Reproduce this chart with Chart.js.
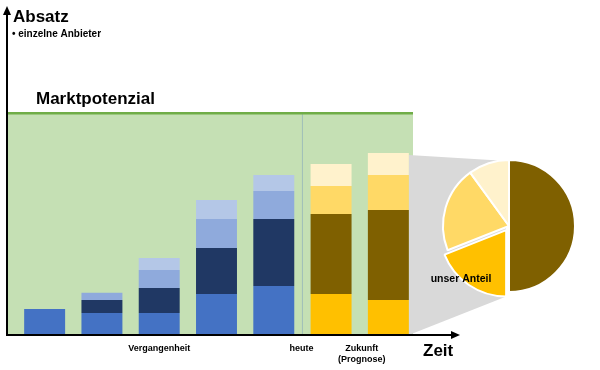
<!DOCTYPE html>
<html>
<head>
<meta charset="utf-8">
<script src="https://cdn.jsdelivr.net/npm/chart.js@4.4.0/dist/chart.umd.min.js"></script>
<style>
  body { margin: 0; background: #fff; }
  #wrap { position: relative; width: 600px; height: 370px; }
  #barChart { position: absolute; left: 0; top: 0; }
  #pieChart { position: absolute; }
</style>
</head>
<body>
<div id="wrap">
  <canvas id="barChart" width="600" height="370"></canvas>
  <canvas id="pieChart" width="200" height="200"></canvas>
</div>
<script>
// --- data ---
var zeitpunkte = ['t1', 't2', 't3', 't4', 't5', 't6', 't7'];
var istPrognose = [false, false, false, false, false, true, true];
var marktpotenzial = 100;
// stack layers, bottom to top (bottom layer of the forecast = unser Anteil)
var schicht1 = [11.7, 9.9, 9.9, 18.5, 22.1, 18.5, 15.8];
var schicht2 = [0, 5.9, 11.3, 20.7, 30.2, 36.1, 40.6];
var schicht3 = [0, 3.2, 8.1, 13.1, 12.6, 12.6, 15.8];
var schicht4 = [0, 0, 5.4, 8.6, 7.2, 9.9, 9.9];
// pie: shares in the forecast, clockwise from top
var anteilLabels = ['Anbieter A', 'unser Anteil', 'Anbieter B', 'Anbieter C'];
var anteilWerte = [50, 19, 21, 10];

var farbenVergangen = ['#4472C4', '#203864', '#8FAADC', '#B4C7E7'];
var farbenZukunft = ['#FFC000', '#7F6000', '#FFD966', '#FFF2CC'];
var FONT = '"Liberation Sans", Arial, sans-serif';

// pie geometry
var pieCx = 509, pieCy = 226, pieR = 66, pieSize = 200;
var pieCanvas = document.getElementById('pieChart');
pieCanvas.style.left = (pieCx - pieSize / 2) + 'px';
pieCanvas.style.top = (pieCy - pieSize / 2) + 'px';

function layerColors(i) {
    return istPrognose.map(function (p) { return p ? farbenZukunft[i] : farbenVergangen[i]; });
}

var decor = {
    id: 'decor',
    beforeDatasetsDraw: function (chart) {
        var ctx = chart.ctx, a = chart.chartArea, x = chart.scales.x, y = chart.scales.y;
        var axisX = a.left - 9;
        var yPot = y.getPixelForValue(marktpotenzial);
        var right = a.right - 4;
        ctx.save();
        ctx.fillStyle = '#C5E0B4';
        ctx.fillRect(axisX, yPot, right - axisX, a.bottom - yPot);
        // heute line
        var xHeute = (x.getPixelForValue(4) + x.getPixelForValue(5)) / 2;
        ctx.strokeStyle = '#9FBFB8';
        ctx.lineWidth = 1;
        ctx.beginPath();
        ctx.moveTo(xHeute, yPot);
        ctx.lineTo(xHeute, a.bottom);
        ctx.stroke();
        // grey connector to the pie
        var last = chart.getDatasetMeta(3).data[6];
        var xr = last.x + last.width / 2;
        ctx.fillStyle = '#D9D9D9';
        ctx.beginPath();
        ctx.moveTo(xr, last.y + 2);
        ctx.lineTo(pieCx - 2, pieCy - pieR + 1);
        ctx.lineTo(pieCx - 4, pieCy + pieR + 5);
        ctx.lineTo(xr, a.bottom);
        ctx.closePath();
        ctx.fill();
        ctx.restore();
    },
    afterDatasetsDraw: function (chart) {
        var ctx = chart.ctx, a = chart.chartArea, x = chart.scales.x, y = chart.scales.y;
        var axisX = a.left - 9;
        var yPot = y.getPixelForValue(marktpotenzial);
        ctx.save();
        // Marktpotenzial line
        ctx.strokeStyle = '#70AD47';
        ctx.lineWidth = 2.5;
        ctx.beginPath();
        ctx.moveTo(axisX, yPot);
        ctx.lineTo(a.right - 4, yPot);
        ctx.stroke();
        // axes
        ctx.strokeStyle = '#000';
        ctx.fillStyle = '#000';
        ctx.lineWidth = 2;
        ctx.beginPath();
        ctx.moveTo(axisX, a.bottom);
        ctx.lineTo(axisX, 13);
        ctx.moveTo(axisX - 1, a.bottom);
        ctx.lineTo(453, a.bottom);
        ctx.stroke();
        ctx.beginPath();
        ctx.moveTo(axisX, 6);
        ctx.lineTo(axisX - 4, 15);
        ctx.lineTo(axisX + 4, 15);
        ctx.closePath();
        ctx.fill();
        ctx.beginPath();
        ctx.moveTo(460, a.bottom);
        ctx.lineTo(451, a.bottom - 4);
        ctx.lineTo(451, a.bottom + 4);
        ctx.closePath();
        ctx.fill();
        // texts
        ctx.textBaseline = 'alphabetic';
        ctx.textAlign = 'left';
        ctx.font = 'bold 17px ' + FONT;
        ctx.fillText('Absatz', 13, 22);
        ctx.fillText('Marktpotenzial', 36, 104);
        ctx.fillText('Zeit', 423, 356);
        ctx.font = 'bold 10px ' + FONT;
        ctx.fillText('• einzelne Anbieter', 12, 37);
        ctx.textAlign = 'center';
        ctx.font = 'bold 9px ' + FONT;
        ctx.fillText('Vergangenheit', x.getPixelForValue(2), 351);
        var xHeute = (x.getPixelForValue(4) + x.getPixelForValue(5)) / 2;
        ctx.fillText('heute', xHeute - 1, 351);
        var xZuk = (x.getPixelForValue(5) + x.getPixelForValue(6)) / 2 + 2;
        ctx.fillText('Zukunft', xZuk, 351);
        ctx.fillText('(Prognose)', xZuk, 362);
        ctx.restore();
    }
};

new Chart(document.getElementById('barChart'), {
    type: 'bar',
    data: {
        labels: zeitpunkte,
        datasets: [schicht1, schicht2, schicht3, schicht4].map(function (werte, i) {
            return {
                data: werte,
                backgroundColor: layerColors(i),
                borderWidth: 0,
                barPercentage: 0.715,
                categoryPercentage: 1
            };
        })
    },
    options: {
        responsive: false,
        animation: false,
        layout: { padding: { left: 16, right: 183, top: 9, bottom: 35 } },
        plugins: { legend: { display: false }, tooltip: { enabled: false } },
        scales: {
            x: { stacked: true, display: false },
            y: { stacked: true, display: false, min: 0, max: 147 }
        }
    },
    plugins: [decor]
});

var pieLabel = {
    id: 'pieLabel',
    afterDraw: function (chart) {
        var arc = chart.getDatasetMeta(0).data[0];
        var ctx = chart.ctx;
        ctx.save();
        ctx.font = 'bold 10.5px ' + FONT;
        ctx.fillStyle = '#000';
        ctx.textAlign = 'center';
        ctx.fillText(anteilLabels[1], arc.x - 48, arc.y + 56);
        ctx.restore();
    }
};

new Chart(pieCanvas, {
    type: 'pie',
    data: {
        labels: anteilLabels,
        datasets: [{
            data: anteilWerte,
            backgroundColor: [farbenZukunft[1], farbenZukunft[0], farbenZukunft[2], farbenZukunft[3]],
            borderColor: '#fff',
            borderWidth: 2,
            offset: [0, 20, 0, 0]
        }]
    },
    options: {
        responsive: false,
        animation: false,
        radius: pieR,
        layout: { padding: 0 },
        plugins: { legend: { display: false }, tooltip: { enabled: false } }
    },
    plugins: [pieLabel]
});
</script>
</body>
</html>
